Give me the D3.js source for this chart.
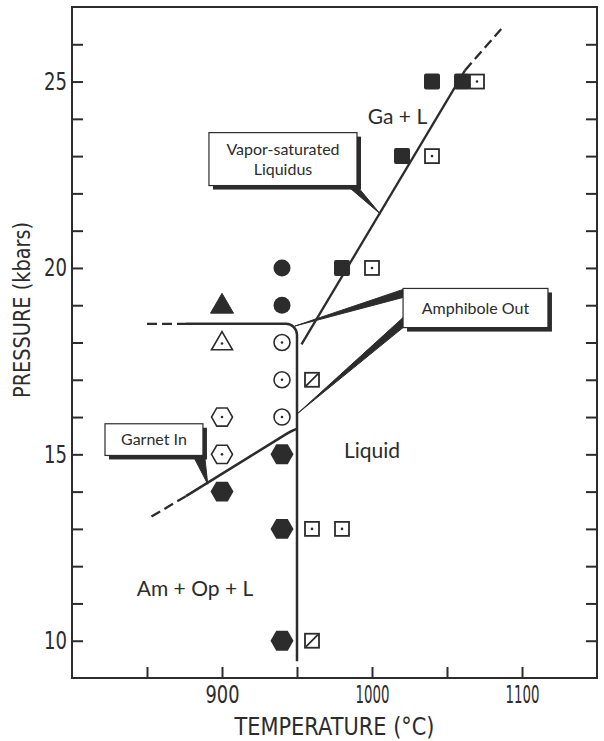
<!DOCTYPE html>
<html>
<head>
<meta charset="utf-8">
<script src="https://cdn.jsdelivr.net/npm/d3@7"></script>
<style>
  body { margin: 0; background: #fff; }
  svg { display: block; }
</style>
</head>
<body>
<svg id="chart" width="604" height="741"></svg>
<script>
// --- Datos (T en °C, P en kbar) ---
const filledSquares = [[1040, 25], [1060, 25], [1020, 23], [980, 20]];
const dotSquares    = [[1070, 25], [1040, 23], [1000, 20], [960, 13], [980, 13]];
const slashSquares  = [[960, 17], [960, 10]];
const filledCircles = [[940, 20], [940, 19]];
const dotCircles    = [[940, 18], [940, 17], [940, 16]];
const filledTris    = [[900, 19]];
const dotTris       = [[900, 18]];
const dotHexes      = [[900, 16], [900, 15]];
const filledHexes   = [[940, 15], [900, 14], [940, 13], [940, 10]];

// curvas de fase
const liquidusSolid  = [[953, 17.95], [1062, 25.3]];
const liquidusDashed = [[1062, 25.3], [1087, 26.45]];
const amphDashed     = [[850, 18.5], [876, 18.5]];
const amphSolid      = [[876, 18.5], [950, 18.5], [950, 9.45]];
const garnetDashed   = [[853, 13.33], [876, 13.88]];
const garnetSolid    = [[876, 13.88], [943, 15.55], [950.5, 15.68]];

// ejes
const xTicks  = [850, 900, 950, 1000, 1050, 1100];
const xLabels = [900, 1000, 1100];
const yTicks  = [10, 11, 12, 13, 14, 15, 16, 17, 18, 19, 20, 21, 22, 23, 24, 25, 26];
const yLabels = [10, 15, 20, 25];

// textos
const regionNames = ["Ga + L", "Liquid", "Am + Op + L"];
const boxTexts = [["Vapor-saturated", "Liquidus"], ["Amphibole Out"], ["Garnet In"]];

// --- Configuración ---
const ink = "#2c2c2c";
const svg = d3.select("#chart");
const x = d3.scaleLinear().domain([800, 1150]).range([72, 597]);
const y = d3.scaleLinear().domain([9, 27]).range([678, 7]);
const axisFont = "'DejaVu Sans', sans-serif";
const labelFont = "Lato, 'Open Sans', sans-serif";

// posiciones de las anotaciones (en unidades de datos)
const regionPos = [[1017, 24.05], [1000, 15.1], [882, 11.4]];
const boxPos = [
  { t0: 891.3, t1: 990, p0: 23.63, p1: 22.21 },
  { t0: 1020.7, t1: 1117.3, p0: 19.45, p1: 18.4 },
  { t0: 822, t1: 887.3, p0: 15.82, p1: 14.97 }
];

// --- Marco y ejes ---
svg.append("rect")
  .attr("x", x(800)).attr("y", y(27))
  .attr("width", x(1150) - x(800)).attr("height", y(9) - y(27))
  .attr("fill", "none").attr("stroke", ink).attr("stroke-width", 2);

const xAxis = svg.append("g")
  .attr("transform", `translate(0,${y(9)})`)
  .call(d3.axisBottom(x).tickValues(xTicks).tickSize(-11).tickPadding(8)
    .tickFormat(d => xLabels.includes(d) ? d : ""));

const yAxis = svg.append("g")
  .attr("transform", `translate(${x(800)},0)`)
  .call(d3.axisLeft(y).tickValues(yTicks).tickSize(-11).tickPadding(5)
    .tickFormat(d => yLabels.includes(d) ? d : ""));

const yAxisR = svg.append("g")
  .attr("transform", `translate(${x(1150)},0)`)
  .call(d3.axisRight(y).tickValues(yTicks).tickSize(-11).tickFormat(""));

[xAxis, yAxis, yAxisR].forEach(g => {
  g.select(".domain").remove();
  g.selectAll(".tick line").attr("stroke", ink).attr("stroke-width", 2);
  g.selectAll(".tick text")
    .attr("fill", ink)
    .style("font-family", axisFont)
    .style("font-size", "24px");
});
// cifras estrechas como en el original
xAxis.selectAll(".tick text").attr("textLength", 34).attr("lengthAdjust", "spacingAndGlyphs");
yAxis.selectAll(".tick text").attr("textLength", 23).attr("lengthAdjust", "spacingAndGlyphs");

svg.append("text")
  .attr("x", (x(800) + x(1150)) / 2).attr("y", 735)
  .attr("text-anchor", "middle")
  .attr("fill", ink)
  .attr("textLength", 200).attr("lengthAdjust", "spacingAndGlyphs")
  .style("font-family", axisFont).style("font-size", "24px")
  .text("TEMPERATURE (°C)");

svg.append("text")
  .attr("transform", `translate(30,310) rotate(-90)`)
  .attr("text-anchor", "middle")
  .attr("fill", ink)
  .attr("textLength", 176).attr("lengthAdjust", "spacingAndGlyphs")
  .style("font-family", axisFont).style("font-size", "23px")
  .text("PRESSURE (kbars)");

// --- Curvas ---
const line = d3.line().x(d => x(d[0])).y(d => y(d[1]));

function drawLine(pts, dashed) {
  svg.append("path")
    .attr("d", line(pts))
    .attr("fill", "none")
    .attr("stroke", ink)
    .attr("stroke-width", 2.3)
    .attr("stroke-dasharray", dashed ? "10,5" : null);
}

drawLine(liquidusSolid, false);
drawLine(liquidusDashed, true);
drawLine(amphDashed, true);
drawLine(garnetDashed, true);

// amphibole out: esquina redondeada
const pa = d3.path();
pa.moveTo(x(amphSolid[0][0]), y(amphSolid[0][1]));
pa.arcTo(x(amphSolid[1][0]), y(amphSolid[1][1]), x(amphSolid[2][0]), y(amphSolid[2][1]), 11);
pa.lineTo(x(amphSolid[2][0]), y(amphSolid[2][1]));
svg.append("path").attr("d", pa.toString())
  .attr("fill", "none").attr("stroke", ink).attr("stroke-width", 2.5);

// garnet in: se curva al llegar a la vertical
const pg = d3.path();
pg.moveTo(x(garnetSolid[0][0]), y(garnetSolid[0][1]));
pg.lineTo(x(garnetSolid[1][0]), y(garnetSolid[1][1]));
pg.quadraticCurveTo(x(garnetSolid[2][0]) - 3, y(garnetSolid[2][1]),
                    x(garnetSolid[2][0]), y(garnetSolid[2][1]));
svg.append("path").attr("d", pg.toString())
  .attr("fill", "none").attr("stroke", ink).attr("stroke-width", 2.5);

// --- Cajas con sombra y flechas ---
const leaders = [
  [{ base: [[-10, 0], [3, 4]], corner: "br", tip: [1005.5, 21.45] }],
  [{ base: [[0, 1], [0, 9]], corner: "tl", tip: [948.5, 18.44] },
   { base: [[0, -10], [0, 0]], corner: "bl", tip: [950.5, 16.1] }],
  [{ base: [[-10, 0], [2, 3]], corner: "br", tip: [890.5, 14.2] }]
];

boxPos.forEach((b, i) => {
  const bx0 = x(b.t0), bx1 = x(b.t1), by0 = y(b.p0), by1 = y(b.p1);
  const g = svg.append("g");
  leaders[i].forEach(l => {
    const cx = l.corner.includes("r") ? bx1 : bx0;
    const cy = l.corner.includes("b") ? by1 : by0;
    const pts = [[cx + l.base[0][0], cy + l.base[0][1]],
                 [cx + l.base[1][0], cy + l.base[1][1]],
                 [x(l.tip[0]), y(l.tip[1])]];
    g.append("polygon").attr("points", pts.join(" ")).attr("fill", ink)
      .attr("stroke", ink).attr("stroke-width", 1).attr("stroke-linejoin", "round");
  });
  g.append("rect")
    .attr("x", bx0 + 4).attr("y", by0 + 4)
    .attr("width", bx1 - bx0).attr("height", by1 - by0)
    .attr("fill", ink);
  g.append("rect")
    .attr("x", bx0).attr("y", by0)
    .attr("width", bx1 - bx0).attr("height", by1 - by0)
    .attr("fill", "#fff").attr("stroke", ink).attr("stroke-width", 1.2);
  const lines = boxTexts[i];
  const cyText = (by0 + by1) / 2;
  lines.forEach((t, j) => {
    g.append("text")
      .attr("x", (bx0 + bx1) / 2)
      .attr("y", cyText + (j - (lines.length - 1) / 2) * 20)
      .attr("dy", "0.35em")
      .attr("text-anchor", "middle")
      .attr("fill", ink)
      .style("font-family", labelFont).style("font-size", "16px")
      .text(t);
  });
});

// --- Etiquetas de campos ---
regionNames.forEach((t, i) => {
  svg.append("text")
    .attr("x", x(regionPos[i][0])).attr("y", y(regionPos[i][1]))
    .attr("dy", "0.35em")
    .attr("text-anchor", "middle")
    .attr("fill", ink)
    .style("font-family", labelFont).style("font-size", "21px")
    .text(t);
});

// --- Símbolos ---
const marks = svg.append("g");

function hexPoints(cx, cy, r) {
  return d3.range(6).map(k => {
    const a = k * Math.PI / 3;
    return [cx + r * Math.cos(a), cy + r * Math.sin(a)];
  });
}
function triPoints(cx, cy, s) {
  const h = s * 0.86;
  return [[cx, cy - h * 0.6], [cx + s / 2, cy + h * 0.4], [cx - s / 2, cy + h * 0.4]];
}
function dot(cx, cy) {
  marks.append("circle").attr("cx", cx).attr("cy", cy).attr("r", 1.3).attr("fill", ink);
}

filledSquares.forEach(d => {
  marks.append("rect")
    .attr("x", x(d[0]) - 8).attr("y", y(d[1]) - 8)
    .attr("width", 16).attr("height", 16).attr("rx", 2)
    .attr("fill", ink);
});
dotSquares.forEach(d => {
  marks.append("rect")
    .attr("x", x(d[0]) - 7).attr("y", y(d[1]) - 7)
    .attr("width", 14).attr("height", 14)
    .attr("fill", "#fff").attr("stroke", ink).attr("stroke-width", 1.8);
  dot(x(d[0]), y(d[1]));
});
slashSquares.forEach(d => {
  const cx = x(d[0]), cy = y(d[1]);
  marks.append("rect")
    .attr("x", cx - 7).attr("y", cy - 7)
    .attr("width", 14).attr("height", 14)
    .attr("fill", "#fff").attr("stroke", ink).attr("stroke-width", 1.8);
  marks.append("line")
    .attr("x1", cx - 6).attr("y1", cy + 6).attr("x2", cx + 6).attr("y2", cy - 6)
    .attr("stroke", ink).attr("stroke-width", 1.8);
});
filledCircles.forEach(d => {
  marks.append("circle").attr("cx", x(d[0])).attr("cy", y(d[1])).attr("r", 8.5).attr("fill", ink);
});
dotCircles.forEach(d => {
  marks.append("circle").attr("cx", x(d[0])).attr("cy", y(d[1])).attr("r", 8)
    .attr("fill", "#fff").attr("stroke", ink).attr("stroke-width", 1.6);
  dot(x(d[0]), y(d[1]));
});
filledTris.forEach(d => {
  marks.append("polygon").attr("points", triPoints(x(d[0]), y(d[1]), 23).join(" "))
    .attr("fill", ink).attr("stroke", ink).attr("stroke-linejoin", "round");
});
dotTris.forEach(d => {
  marks.append("polygon").attr("points", triPoints(x(d[0]), y(d[1]), 21).join(" "))
    .attr("fill", "#fff").attr("stroke", ink).attr("stroke-width", 1.6);
  dot(x(d[0]), y(d[1]) + 1);
});
dotHexes.forEach(d => {
  marks.append("polygon").attr("points", hexPoints(x(d[0]), y(d[1]), 10.5).join(" "))
    .attr("fill", "#fff").attr("stroke", ink).attr("stroke-width", 1.6);
  dot(x(d[0]), y(d[1]));
});
filledHexes.forEach(d => {
  marks.append("polygon").attr("points", hexPoints(x(d[0]), y(d[1]), 11.5).join(" "))
    .attr("fill", ink);
});
</script>
</body>
</html>
